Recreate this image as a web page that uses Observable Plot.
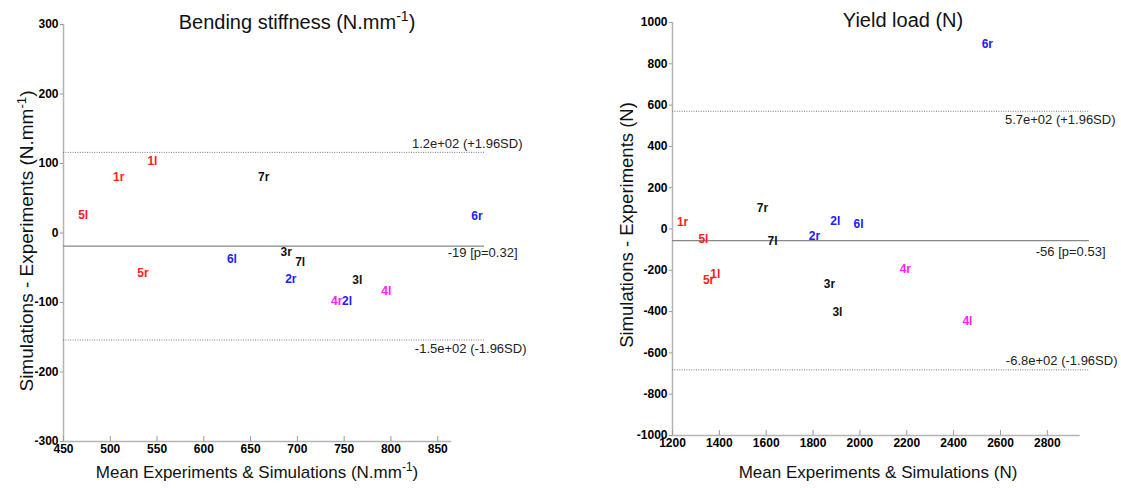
<!DOCTYPE html>
<html><head><meta charset="utf-8">
<script src="https://cdn.jsdelivr.net/npm/d3@7"></script>
<script src="https://cdn.jsdelivr.net/npm/@observablehq/plot@0.6"></script>
<style>
body{margin:0;background:#fff;}
#wrap{display:flex;width:1121px;height:488px;overflow:hidden;}
#wrap svg{display:block;}
#wrap svg g[aria-label*="tick label"], #wrap svg g[aria-label*="tick label"] text{font-weight:bold;}
</style></head><body><div id="wrap"></div>
<script>
// ---- data ----
const specimens = ["1l","1r","2l","2r","3l","3r","4l","4r","5l","5r","6l","6r","7l","7r"];
const specimenGroupColors = {"1":"#ff2020","2":"#2020ff","3":"#111111","4":"#ff20ff","5":"#ff2020","6":"#2020ff","7":"#111111"};

// Bending stiffness (N.mm^-1)
const bendMean = [545, 509, 753, 693, 764, 688, 795, 742, 471, 535, 630, 892, 703, 664];
const bendDiff = [103, 80, -98, -67, -68, -28, -84, -98, 25, -58, -37, 24, -42, 80];
const bendLines = [116, -19, -154];
const bendLineLabels = ["1.2e+02 (+1.96SD)", "-19 [p=0.32]", "-1.5e+02 (-1.96SD)"];
const bendXTicks = [450, 500, 550, 600, 650, 700, 750, 800, 850];
const bendYTicks = [-300, -200, -100, 0, 100, 200, 300];

// Yield load (N)
const yieldMean = [1383, 1243, 1895, 1806, 1904, 1870, 2459, 2194, 1332, 1354, 1994, 2544, 1627, 1584];
const yieldDiff = [-220, 31, 36, -36, -404, -269, -448, -196, -51, -249, 22, 893, -61, 99];
const yieldLines = [570, -56, -682];
const yieldLineLabels = ["5.7e+02 (+1.96SD)", "-56 [p=0.53]", "-6.8e+02 (-1.96SD)"];
const yieldXTicks = [1200, 1400, 1600, 1800, 2000, 2200, 2400, 2600, 2800];
const yieldYTicks = [-1000, -800, -600, -400, -200, 0, 200, 400, 600, 800, 1000];

const FONT = "'Liberation Sans', Arial, Helvetica, sans-serif";

function panel(c) {
  const H = 488;
  const frameH = H - c.mt - c.mb;
  const marks = [
    // axis lines
    Plot.ruleX([c.xDomain[0]], {stroke: "#b4b4b4", strokeWidth: 1.5}),
    Plot.ruleY([c.yDomain[0]], {x1: c.xDomain[0], x2: c.xAxisEnd, stroke: "#b4b4b4", strokeWidth: 1.5}),
    Plot.tickX(c.xTicks, {x: d => d, insetTop: frameH - 5, stroke: "#999"}),
    Plot.axisY(c.yTicks, {tickSize: 3, tickPadding: 2, fontWeight: "bold", fontSize: 12, stroke: "#999", fill: "#000", tickFormat: String, label: null}),
    Plot.axisX(c.xTicks, {tickSize: 0, tickPadding: 3, fontWeight: "bold", fontSize: 12, fill: "#000", tickFormat: String, label: null}),
    // limit lines
    Plot.ruleY([c.lines[0]], {x1: c.xDomain[0], x2: c.xDomain[1], stroke: "#777", strokeDasharray: "1,1.4"}),
    Plot.ruleY([c.lines[1]], {x1: c.xDomain[0], x2: c.xDomain[1], stroke: "#888", strokeWidth: 1.2}),
    Plot.ruleY([c.lines[2]], {x1: c.xDomain[0], x2: c.xDomain[1], stroke: "#777", strokeDasharray: "1,1.4"}),
  ];
  for (let i = 0; i < 3; i++) {
    marks.push(Plot.text([c.lineLabels[i]], {x: () => c.xDomain[1], y: () => c.lines[i], text: d => d,
      textAnchor: "end", dx: c.labelDx[i], dy: c.labelDy[i], fontSize: 13, fill: "#222"}));
  }
  marks.push(
    Plot.text(specimens, {x: (d, i) => c.xs[i], y: (d, i) => c.ys[i], text: d => d,
      fill: d => specimenGroupColors[d[0]], fontWeight: "bold", fontSize: 12}),
    Plot.text([c.title], {text: d => d, frameAnchor: "top", textAnchor: "middle", lineAnchor: "middle",
      dx: c.titleDx, dy: c.titleDy, fontSize: 20, fill: "#111"}),
    Plot.text([c.xLabel], {text: d => d, frameAnchor: "bottom", textAnchor: "middle", lineAnchor: "middle",
      dx: c.xLabelDx, dy: c.xLabelDy, fontSize: 17, fill: "#111"}),
    Plot.text([c.yLabel], {text: d => d, frameAnchor: "left", textAnchor: "middle", lineAnchor: "middle",
      rotate: -90, dx: c.yLabelDx, dy: c.yLabelDy, fontSize: c.yLabelSize, fill: "#111"})
  );
  return Plot.plot({
    width: c.width, height: H,
    marginLeft: c.ml, marginRight: c.mr, marginTop: c.mt, marginBottom: c.mb,
    x: {domain: c.xDomain},
    y: {domain: c.yDomain},
    color: {type: "identity"},
    style: {fontFamily: FONT, fontSize: "12px", background: "white", overflow: "visible"},
    marks
  });
}

function finish(svg) {
  svg.querySelectorAll("text").forEach(t => {
    const s = t.textContent;
    if (!s.includes("^-1") || t.children.length) return;
    const [a, b] = s.split("^-1");
    t.textContent = "";
    t.appendChild(document.createTextNode(a));
    const sup = document.createElementNS("http://www.w3.org/2000/svg", "tspan");
    sup.setAttribute("baseline-shift", "super");
    sup.setAttribute("font-size", "70%");
    sup.textContent = "-1";
    t.appendChild(sup);
    t.appendChild(document.createTextNode(b));
  });
  svg.querySelectorAll('g[aria-label*="tick label"]').forEach(g => {
    g.setAttribute("font-weight", "bold");
    g.querySelectorAll("text").forEach(t => t.setAttribute("font-weight", "bold"));
  });
  return svg;
}

const left = panel({
  width: 560, ml: 63, mr: 76, mt: 24, mb: 47,
  xDomain: [450, 900], yDomain: [-300, 300], xAxisEnd: 865,
  xTicks: bendXTicks, yTicks: bendYTicks, xs: bendMean, ys: bendDiff,
  lines: bendLines, lineLabels: bendLineLabels, labelDx: [38, 33, 42], labelDy: [-9, 7, 9],
  title: "Bending stiffness (N.mm^-1)", titleDx: 23, titleDy: -2,
  xLabel: "Mean Experiments & Simulations (N.mm^-1)", xLabelDx: -17, xLabelDy: 31,
  yLabel: "Simulations - Experiments (N.mm^-1)", yLabelDx: -37, yLabelDy: 8, yLabelSize: 19
});
const right = panel({
  width: 561, ml: 112, mr: 32, mt: 22, mb: 53,
  xDomain: [1200, 2980], yDomain: [-1000, 1000], xAxisEnd: 2940,
  xTicks: yieldXTicks, yTicks: yieldYTicks, xs: yieldMean, ys: yieldDiff,
  lines: yieldLines, lineLabels: yieldLineLabels, labelDx: [26, 16, 28], labelDy: [9, 11, -9],
  title: "Yield load (N)", titleDx: 22, titleDy: -2,
  xLabel: "Mean Experiments & Simulations (N)", xLabelDx: -3, xLabelDy: 37,
  yLabel: "Simulations - Experiments (N)", yLabelDx: -45, yLabelDy: -4, yLabelSize: 18.5
});
const wrap = document.getElementById("wrap");
wrap.appendChild(finish(left));
wrap.appendChild(finish(right));
</script></body></html>
